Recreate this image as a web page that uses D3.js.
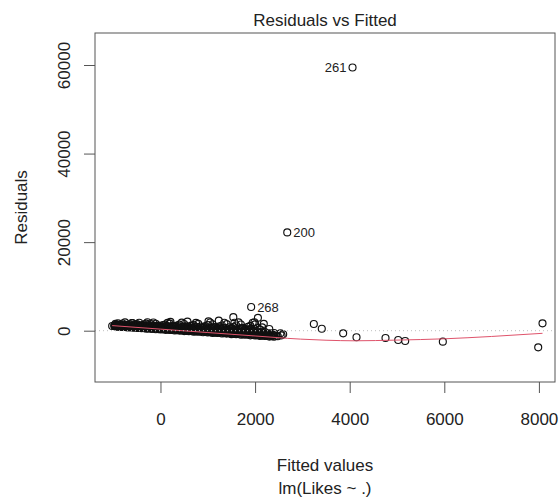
<!DOCTYPE html>
<html>
<head>
<meta charset="utf-8">
<script src="https://cdn.jsdelivr.net/npm/d3@7"></script>
<style>
  html, body { margin: 0; padding: 0; background: #fff; }
  svg { display: block; }
  text { font-family: "Liberation Sans", Arial, Helvetica, sans-serif; fill: #222; }
</style>
</head>
<body>
<svg id="chart" width="559" height="503"></svg>
<script>
// Residuals vs fitted values for lm(Likes ~ .)

// Dense body of observations: lower part of the band
const fittedA = [
  -975,-950,-925,-900,-875,-850,-825,
  -800,-775,-750,-725,-700,-675,-650,-625,
  -600,-575,-550,-525,-500,-475,-450,-425,
  -400,-375,-350,-325,-300,-275,-250,-225,
  -200,-175,-150,-125,-100,-75,-50,-25,
  0,25,50,75,100,125,150,175,
  200,225,250,275,300,325,350,375,
  400,425,450,475,500,525,550,575,
  600,625,650,675,700,725,750,775,
  800,825,850,875,900,925,950,975,
  1000,1025,1050,1075,1100,1125,1150,1175,
  1200,1225,1250,1275,1300,1325,1350,1375,
  1400,1425,1450,1475,1500,1525,1550,1575,
  1600,1625,1650,1675,1700,1725,1750,1775,
  1800,1825,1850,1875,1900,1925,1950,1975,
  2000,2025,2050,2075,2100,2125,2150,2175,
  2200,2225,2250,2275,2300,2325,2350,2375,2400
];
const residA = [
  1053,976,1078,881,964,887,979,
  835,933,847,967,743,841,755,864,
  700,813,718,856,605,718,623,748,
  565,691,588,741,467,593,490,630,
  429,568,458,627,329,468,357,511,
  294,447,328,514,191,344,225,394,
  159,326,198,401,53,220,93,277,
  24,206,68,290,-85,97,-40,162,
  -111,86,-61,179,-223,-26,-172,46,
  -246,-34,-190,68,-361,-149,-304,-69,
  -381,-154,-319,-43,-499,-272,-436,-185,
  -516,-274,-448,-154,-637,-395,-568,-300,
  -651,-394,-577,-265,-775,-518,-700,-416,
  -786,-514,-706,-376,-913,-641,-832,-531,
  -921,-634,-835,-487,-1051,-764,-964,-647,
  -1056,-754,-964,-598,-1189,-887,-1096,-762,
  -1198,-975,-1143,-860,-1327,-1094,-1262,-1029,-1376
];

// Dense body of observations: middle of the band
const fittedD = [
  -962,-937,-912,-887,-862,-837,-812,
  -787,-762,-737,-712,-687,-662,-637,-612,
  -587,-562,-537,-512,-487,-462,-437,-412,
  -387,-362,-337,-312,-287,-262,-237,-212,
  -187,-162,-137,-112,-87,-62,-37,-12,
  13,38,63,88,113,138,163,188,
  213,238,263,288,313,338,363,388,
  413,438,463,488,513,538,563,588,
  613,638,663,688,713,738,763,788,
  813,838,863,888,913,938,963,988,
  1013,1038,1063,1088,1113,1138,1163,1188,
  1213,1238,1263,1288,1313,1338,1363,1388,
  1413,1438,1463,1488,1513,1538,1563,1588,
  1613,1638,1663,1688,1713,1738,1763,1788,
  1813,1838,1863,1888,1913,1938,1963,1988,
  2013,2038,2063,2088,2113,2138,2163,2188,
  2213,2238,2263,2288,2313,2338,2363,2388
];
const residD = [
  1224,987,1289,1072,1355,938,1170,
  1148,878,1229,981,1309,832,1103,970,
  1055,752,1151,873,1246,709,1017,869,
  956,624,1065,761,1173,584,924,764,
  857,497,979,649,1100,459,832,658,
  761,370,897,539,1032,335,743,555,
  665,243,815,429,964,211,654,452,
  572,117,736,321,901,88,568,352,
  479,-9,658,213,838,-35,482,251,
  386,-135,580,105,775,-158,397,151,
  293,-261,502,-3,712,-281,311,50,
  200,-387,424,-111,649,-404,226,-50,
  107,-513,346,-219,586,-527,140,-151,
  14,-639,268,-327,523,-650,55,-251,
  -79,-765,190,-435,460,-773,-31,-352,
  -529,-986,-364,-781,-298,-1015,-533,-750,
  -767,-1154,-652,-999,-586,-1193,-811,-988
];

// Dense body of observations: upper part of the band
const fittedB = [
  -975,-950,-925,-900,-875,-850,-825,
  -800,-775,-750,-725,-700,-675,-650,-625,
  -600,-575,-550,-525,-500,-475,-450,-425,
  -400,-375,-350,-325,-300,-275,-250,-225,
  -200,-175,-150,-125,-100,-75,-50,-25,
  0,25,50,75,100,125,150,175,
  200,225,250,275,300,325,350,375,
  400,425,450,475,500,525,550,575,
  600,625,650,675,700,725,750,775,
  800,825,850,875,900,925,950,975,
  1000,1025,1050,1075,1100,1125,1150,1175,
  1200,1225,1250,1275,1300,1325,1350,1375,
  1400,1425,1450,1475,1500,1525,1550,1575,
  1600,1625,1650,1675,1700,1725,1750,1775,
  1800,1825,1850,1875,1900,1925,1950,1975,
  2000,2050,2100,2150,
  2200,2300,2400
];
const residB = [
  1213,1536,1248,1681,1114,1397,1229,
  1617,1140,1871,1335,1261,1048,1422,1094,
  1714,982,1355,1142,1515,978,1806,1203,
  1180,919,1389,984,1611,808,1220,987,
  1490,849,1846,1126,1577,702,1153,901,
  1025,719,1280,803,1381,684,1772,989,
  1594,565,1100,806,881,551,1160,645,
  1377,564,1839,927,1507,396,975,659,
  809,428,1138,543,1275,402,1775,795,
  1540,264,933,572,670,263,1024,389,
  1278,285,1853,738,1453,94,808,425,
  598,140,1003,287,1176,123,1789,606,
  1486,-38,766,338,458,-25,889,132,
  1179,6,1867,549,1399,-207,642,191,
  386,-148,868,30,1077,-156,1802,417,
  1432,600,247,754,
  -268,373,-521
];

// Scattered observations above the band and along the right tail
const fittedC = [
  -1021,-600,-275,211,570,1015,1233,1540,1564,1987,2060,2184,
  2450,2480,2537,2560,2594,
  3242,3410,3862,4144,4757,5025,5173,5969,7985,8076
];
const residC = [
  1060,1700,1900,2000,2050,2100,2260,3050,1800,1900,2900,1550,
  -1200,-1250,-590,-1050,-810,
  1510,450,-590,-1490,-1650,-2100,-2330,-2480,-3750,1670
];

// The three most extreme residuals, labelled by observation number
const idLabels = ["268", "200", "261"];
const idFitted = [1917, 2680, 4060];
const idResid = [5350, 22200, 59450];

// Smoothed trend of the residuals
const smoothFitted = [-1021, 0, 1000, 2000, 2680, 2960, 3500, 4100, 5000, 6000, 7000, 8076];
const smoothResid = [1150, 356, -418, -1192, -1720, -1900, -2150, -2280, -2120, -1830, -1300, -590];

// Axis ticks
const xTicks = [0, 2000, 4000, 6000, 8000];
const yTicks = [0, 20000, 40000, 60000];

const plot = { left: 95, right: 555, top: 33, bottom: 382 };
const fontSize = 17;

const svg = d3.select("#chart");

const x = d3.scaleLinear().domain([-1384, 8340]).range([plot.left, plot.right]);
const y = d3.scaleLinear().domain([-11585, 67230]).range([plot.bottom, plot.top]);

// Assemble all observations
const points = [];
[[fittedA, residA], [fittedD, residD], [fittedB, residB], [fittedC, residC], [idFitted, idResid]]
  .forEach(([fs, rs]) => {
    fs.forEach((f, i) => points.push({ f, r: rs[i] }));
  });

// Points
svg.append("g")
  .selectAll("circle")
  .data(points)
  .join("circle")
  .attr("cx", d => x(d.f))
  .attr("cy", d => y(d.r))
  .attr("r", 3.5)
  .attr("fill", "none")
  .attr("stroke", "#111")
  .attr("stroke-width", 1.15);

// Smoothed trend line
const smooth = smoothFitted.map((f, i) => ({ f, r: smoothResid[i] }));
svg.append("path")
  .datum(smooth)
  .attr("fill", "none")
  .attr("stroke", "#DF536B")
  .attr("stroke-width", 1)
  .attr("d", d3.line().x(d => x(d.f)).y(d => y(d.r)).curve(d3.curveMonotoneX));

// Zero reference line
svg.append("line")
  .attr("x1", plot.left).attr("x2", plot.right)
  .attr("y1", y(0)).attr("y2", y(0))
  .attr("stroke", "#bebebe")
  .attr("stroke-width", 1)
  .attr("stroke-dasharray", "1,3");

// Point labels: left of the point when it sits right of the centre
const xMid = (x.domain()[0] + x.domain()[1]) / 2;
svg.append("g")
  .selectAll("text")
  .data(idLabels.map((lab, i) => ({ lab, f: idFitted[i], r: idResid[i] })))
  .join("text")
  .attr("x", d => x(d.f) + (d.f > xMid ? -6 : 6))
  .attr("y", d => y(d.r))
  .attr("dy", "0.35em")
  .attr("text-anchor", d => d.f > xMid ? "end" : "start")
  .style("font-size", "13px")
  .text(d => d.lab);

// Plot frame
svg.append("rect")
  .attr("x", plot.left).attr("y", plot.top)
  .attr("width", plot.right - plot.left)
  .attr("height", plot.bottom - plot.top)
  .attr("fill", "none")
  .attr("stroke", "#555")
  .attr("stroke-width", 1);

// X axis
const xAxis = svg.append("g")
  .attr("transform", `translate(0,${plot.bottom})`)
  .call(d3.axisBottom(x).tickValues(xTicks).tickSize(11).tickPadding(20).tickFormat(d3.format("d")));
xAxis.select(".domain").remove();
xAxis.selectAll(".tick line").attr("stroke", "#555");
xAxis.selectAll(".tick text")
  .style("font-size", fontSize + "px")
  .style("font-family", "'Liberation Sans', Arial, sans-serif")
  .attr("fill", "#222");

// Y axis with labels parallel to the axis
const yAxis = svg.append("g")
  .attr("transform", `translate(${plot.left},0)`)
  .call(d3.axisLeft(y).tickValues(yTicks).tickSize(11).tickFormat(d3.format("d")));
yAxis.select(".domain").remove();
yAxis.selectAll(".tick line").attr("stroke", "#555");
yAxis.selectAll(".tick text")
  .attr("x", 0)
  .attr("y", -25)
  .attr("dy", null)
  .attr("text-anchor", "middle")
  .attr("transform", "rotate(-90)")
  .style("font-size", fontSize + "px")
  .style("font-family", "'Liberation Sans', Arial, sans-serif")
  .attr("fill", "#222");

// Title
svg.append("text")
  .attr("x", (plot.left + plot.right) / 2)
  .attr("y", 26)
  .attr("text-anchor", "middle")
  .style("font-size", fontSize + "px")
  .text("Residuals vs Fitted");

// Axis titles
svg.append("text")
  .attr("x", (plot.left + plot.right) / 2)
  .attr("y", 471)
  .attr("text-anchor", "middle")
  .style("font-size", fontSize + "px")
  .text("Fitted values");

svg.append("text")
  .attr("x", (plot.left + plot.right) / 2)
  .attr("y", 494)
  .attr("text-anchor", "middle")
  .style("font-size", fontSize + "px")
  .text("lm(Likes ~ .)");

svg.append("text")
  .attr("transform", `translate(27,${(plot.top + plot.bottom) / 2}) rotate(-90)`)
  .attr("text-anchor", "middle")
  .style("font-size", fontSize + "px")
  .text("Residuals");
</script>
</body>
</html>
